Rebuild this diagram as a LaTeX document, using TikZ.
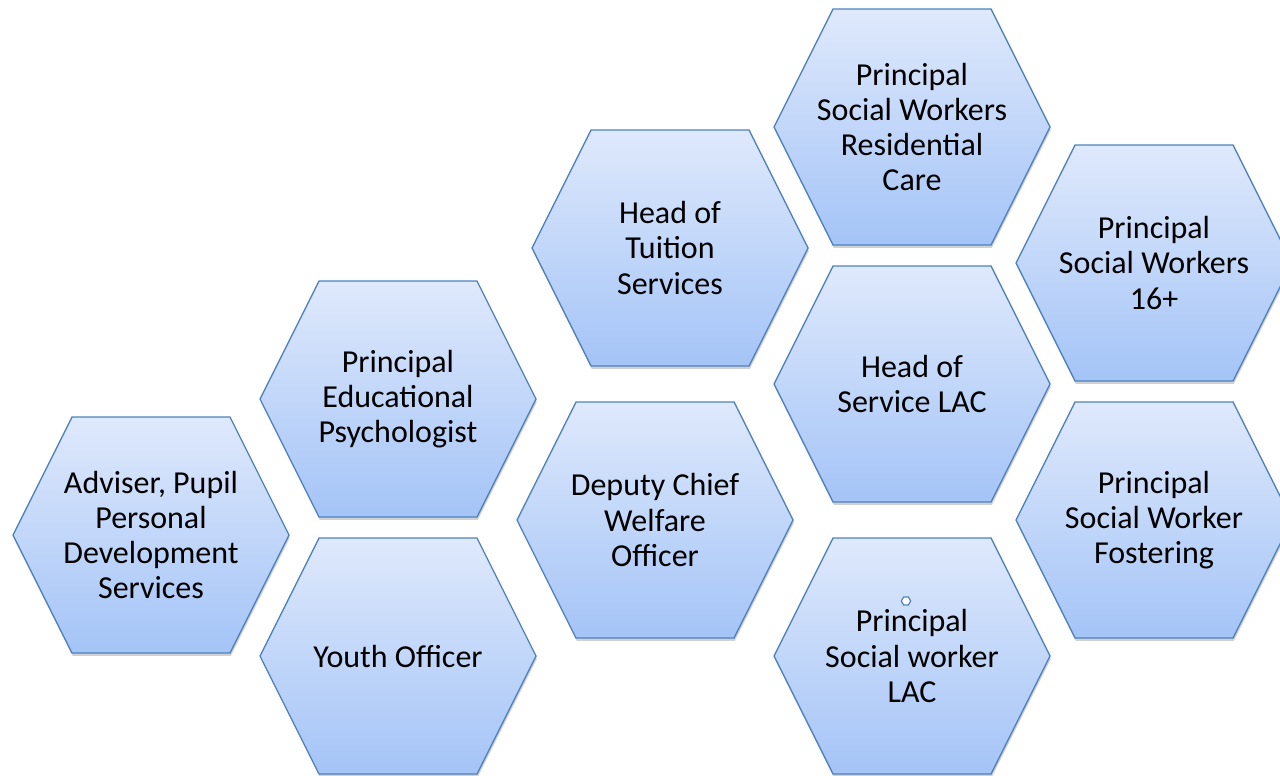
\documentclass[tikz,border=0pt]{standalone}
\usepackage{fontspec}
\setmainfont{Carlito}
\usetikzlibrary{shapes.geometric}

\definecolor{hexline}{RGB}{79,129,189}
\definecolor{hextop}{RGB}{223,233,252}
\definecolor{hexbot}{RGB}{164,196,247}

% one hexagon cell: name, centre, text
\newcommand{\hexcell}[3]{%
  \fill[hexshadow, shift={(#2)}] (-138,0) -- (-79,-118) -- (79,-118) -- (138,0) -- (79,118) -- (-79,118) -- cycle;
  \draw[hexbody, shift={(#2)}] (-138,0) -- (-79,-118) -- (79,-118) -- (138,0) -- (79,118) -- (-79,118) -- cycle;
  \node[hextext] (#1) at (#2) {#3};}

\begin{document}
\begin{tikzpicture}[
    x=0.75pt, y=-0.75pt,
    hexbody/.style={draw=hexline, line width=1pt, top color=hextop, bottom color=hexbot},
    hexshadow/.style={fill=black, opacity=0.18, yshift=-2.2pt, xshift=0.6pt},
    hextext/.style={align=center, inner sep=0pt, font=\fontsize{24}{26.3}\selectfont},
    handle/.style={draw=hexline, fill=white, line width=0.9pt, regular polygon, regular polygon sides=6,
      minimum size=7pt, inner sep=0pt},
]
\useasboundingbox (0,0) rectangle (1280,775);
\clip (0,0) rectangle (1280,775);
% ----- left group
\hexcell{adviser}{151,535}{Adviser, Pupil\\Personal\\Development\\Services}
\hexcell{psych}{398,399}{Principal\\Educational\\Psychologist}
\hexcell{youth}{398,656}{Youth Officer}
% ----- middle group
\hexcell{tuition}{670,248}{Head of\\Tuition\\Services}
\hexcell{welfare}{655,520}{Deputy Chief\\Welfare\\Officer}
% ----- social work group
\hexcell{residential}{912,127}{Principal\\Social Workers\\Residential\\Care}
\hexcell{lachead}{912,384}{Head of\\Service LAC}
\hexcell{lacworker}{912,656}{Principal\\Social worker\\LAC}
\hexcell{sixteen}{1154,263}{Principal\\Social Workers\\16+}
\hexcell{fostering}{1154,520}{Principal\\Social Worker\\Fostering}
\node[handle] (lacmark) at (906,601) {};
\end{tikzpicture}
\end{document}
